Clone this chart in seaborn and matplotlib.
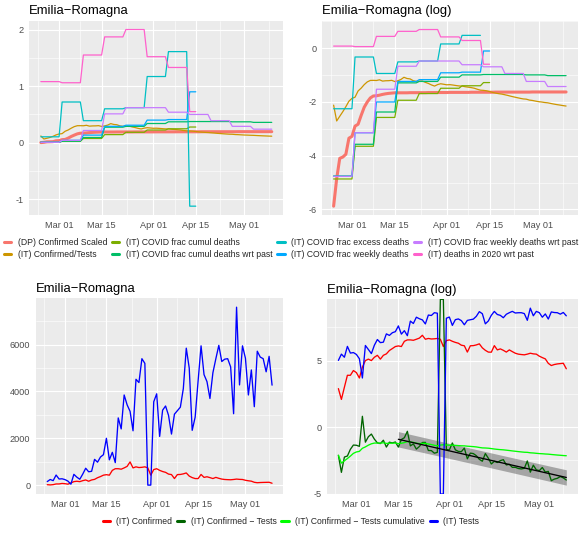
import numpy as np
import pandas as pd
import matplotlib
matplotlib.use('Agg')
import matplotlib.pyplot as plt
import matplotlib.dates as mdates
from matplotlib.ticker import MultipleLocator, FixedLocator
from matplotlib.lines import Line2D
import seaborn as sns

nan = np.nan

# ---- data (Emilia-Romagna, 2020-02-24 .. 2020-05-10) ----
dates = pd.date_range('2020-02-24', '2020-05-10', freq='D')
week_start = pd.date_range('2020-02-24', periods=11, freq='7D')
istat_end = pd.Timestamp('2020-04-15')

confirmed = [18, 8, 20, 49, 49, 70, 60, 40, 90, 148,
             165, 148, 190, 220, 165, 220, 245, 315, 365, 425,
             445, 425, 630, 700, 700, 680, 735, 800, 990, 735,
             780, 750, 760, 780, 735, 425, 665, 700, 630, 580,
             545, 470, 450, 280, 450, 455, 480, 520, 385, 320,
             280, 278, 455, 330, 356, 320, 280, 330, 290, 257,
             240, 233, 228, 240, 257, 245, 240, 206, 185, 168,
             120, 102, 110, 115, 118, 121, 80]

tests = [150, 240, 190, 430, 260, 270, 235, 170, 40, 460,
         340, 250, 470, 720, 570, 590, 1100, 980, 1200, 1300,
         2000, 1080, 1400, 960, 2870, 2400, 3850, 3430, 3150, 2320,
         4520, 4380, 5400, 5200, 0, 0, 3560, 3900, 2080, 3200,
         3380, 2980, 2180, 3030, 3180, 3330, 4120, 5850, 5000, 2340,
         2900, 4450, 5950, 4720, 4420, 3700, 4800, 5400, 5970, 5280,
         5380, 5400, 5050, 3050, 7600, 4280, 5950, 5420, 3850, 4920,
         3350, 5720, 5470, 5400, 4840, 5500, 4270]

dp_confirmed_scaled = [0.0028, 0.0078, 0.0166, 0.0174, 0.0193, 0.0351, 0.0376, 0.055, 0.059, 0.082,
                       0.111, 0.135, 0.157, 0.169, 0.170, 0.174, 0.179, 0.183, 0.186, 0.188,
                       0.190, 0.190, 0.190, 0.190, 0.190, 0.191, 0.191, 0.191, 0.191, 0.191,
                       0.191, 0.192, 0.192, 0.192, 0.192, 0.192, 0.192, 0.192, 0.193, 0.193,
                       0.193, 0.193, 0.193, 0.193, 0.193, 0.194, 0.194, 0.194, 0.194, 0.194,
                       0.194, 0.194, 0.194, 0.195, 0.195, 0.195, 0.195, 0.195, 0.195, 0.195,
                       0.195, 0.195, 0.195, 0.195, 0.195, 0.196, 0.196, 0.196, 0.196, 0.196,
                       0.196, 0.196, 0.196, 0.196, 0.196, 0.196, 0.196]

# weekly ISTAT values (one per week, Mon-Sun)
frac_cumul_deaths = [0.0077, 0.026, 0.076, 0.144, 0.185, 0.225, 0.247, 0.278, nan, nan, nan]
frac_cumul_deaths_past = [0.0086, 0.028, 0.093, 0.275, 0.29, 0.34, 0.37, 0.375, 0.375, 0.37, 0.36]
frac_excess_deaths = [0.105, 0.72, 0.39, 0.60, 0.62, 1.17, 1.61, -1.12, nan, nan, nan]
frac_weekly_deaths = [0.0085, 0.043, 0.135, 0.29, 0.31, 0.40, 0.41, 0.90, nan, nan, nan]
frac_weekly_deaths_past = [0.0085, 0.043, 0.217, 0.51, 0.62, 0.62, 0.54, 0.50, 0.39, 0.29, 0.24]
deaths_2020_past = [1.08, 1.06, 1.55, 1.87, 2.00, 1.52, 1.33, 0.55, nan, nan, nan]

top_labels = ['(DP) Confirmed Scaled', '(IT) Confirmed/Tests',
              '(IT) COVID frac cumul deaths', '(IT) COVID frac cumul deaths wrt past',
              '(IT) COVID frac excess deaths', '(IT) COVID frac weekly deaths',
              '(IT) COVID frac weekly deaths wrt past', '(IT) deaths in 2020 wrt past']
top_colors = ['#F8766D', '#CD9600', '#7CAE00', '#00BE67',
              '#00BFC4', '#00A9FF', '#C77CFF', '#FF61CC']

bottom_labels = ['(IT) Confirmed', '(IT) Confirmed \u2212 Tests',
                 '(IT) Confirmed \u2212 Tests cumulative', '(IT) Tests']
bottom_colors = ['#FF0000', '#006400', '#00FF00', '#0000FF']

title = 'Emilia\u2212Romagna'


def weekly_to_daily(vals, end=None):
    s = pd.Series(vals, index=week_start).reindex(dates, method='ffill')
    if end is not None:
        s[s.index > end] = nan
    return s.values


# ---- build series ----
conf = np.array(confirmed, dtype=float)
tst = np.array(tests, dtype=float)
cum_ratio = np.cumsum(conf) / np.cumsum(tst)

top_series = [
    np.array(dp_confirmed_scaled),
    cum_ratio,
    weekly_to_daily(frac_cumul_deaths, istat_end),
    weekly_to_daily(frac_cumul_deaths_past),
    weekly_to_daily(frac_excess_deaths, istat_end),
    weekly_to_daily(frac_weekly_deaths, istat_end),
    weekly_to_daily(frac_weekly_deaths_past),
    weekly_to_daily(deaths_2020_past, istat_end),
]
top_widths = [2.2] + [0.9] * 7

with np.errstate(divide='ignore', invalid='ignore'):
    log_conf = np.log(conf)
    log_tests = np.log(tst)
    log_ratio = np.log(conf / tst)
    log_cum = np.log(cum_ratio)

# ---- style ----
sns.set_theme(style='darkgrid', rc={
    'axes.facecolor': '#EBEBEB',
    'grid.color': 'white',
    'axes.unicode_minus': False,
})
plt.rcParams['font.family'] = ['Liberation Sans', 'DejaVu Sans']

W, H = 582, 533
fig = plt.figure(figsize=(W / 100, H / 100), dpi=100)


def rect(x0, y0, x1, y1):
    return [x0 / W, 1 - y1 / H, (x1 - x0) / W, (y1 - y0) / H]


ax_tl = fig.add_axes(rect(29.3, 20.7, 283.3, 215))
ax_tr = fig.add_axes(rect(322, 20.7, 577.7, 215))
ax_bl = fig.add_axes(rect(36, 298.3, 283.3, 494))
ax_br = fig.add_axes(rect(327, 299.3, 577.7, 494))

major_dates = pd.to_datetime(['2020-03-01', '2020-03-15', '2020-04-01', '2020-04-15', '2020-05-01'])
mnum = mdates.date2num(major_dates)
minor_num = list((mnum[:-1] + mnum[1:]) / 2)
minor_num = [mnum[0] - (mnum[1] - mnum[0]) / 2] + minor_num + [mnum[-1] + (mnum[-1] - mnum[-2]) / 2]


def style_axis(ax, ystep, name):
    ax.xaxis.set_major_locator(FixedLocator(mnum))
    ax.xaxis.set_minor_locator(FixedLocator(minor_num))
    ax.xaxis.set_major_formatter(mdates.DateFormatter('%b %d'))
    ax.yaxis.set_major_locator(MultipleLocator(ystep))
    ax.yaxis.set_minor_locator(MultipleLocator(ystep / 2))
    ax.grid(which='major', color='white', linewidth=0.85)
    ax.grid(which='minor', color='white', linewidth=0.4)
    ax.tick_params(which='major', length=2.5, width=0.6, color='#333333',
                   labelcolor='#4D4D4D', labelsize=6.6, pad=1.5)
    ax.tick_params(which='minor', length=0)
    for s in ax.spines.values():
        s.set_visible(False)
    ax.set_xlabel('')
    ax.set_ylabel('')
    ax.set_title(name, loc='left', fontsize=9.4, pad=4.5, color='black')


# top-left: linear
for vals, c, lw in zip(top_series, top_colors, top_widths):
    sns.lineplot(x=dates, y=vals, ax=ax_tl, color=c, linewidth=lw, estimator=None)
style_axis(ax_tl, 1, title)

# top-right: log
for vals, c, lw in zip(top_series, top_colors, top_widths):
    with np.errstate(invalid='ignore', divide='ignore'):
        lv = np.log(vals)
    sns.lineplot(x=dates, y=lv, ax=ax_tr, color=c, linewidth=lw, estimator=None)
style_axis(ax_tr, 2, title + ' (log)')

# bottom-left: daily counts
sns.lineplot(x=dates, y=conf, ax=ax_bl, color=bottom_colors[0], linewidth=0.95)
sns.lineplot(x=dates, y=tst, ax=ax_bl, color=bottom_colors[3], linewidth=0.95)
style_axis(ax_bl, 2000, title)

# bottom-right: logs + linear fit from Mar 15
day = np.arange(len(dates), dtype=float)
fit_mask = (dates >= '2020-03-15') & np.isfinite(log_ratio)
xf, yf = day[fit_mask], log_ratio[fit_mask]
slope, icpt = np.polyfit(xf, yf, 1)
n = len(xf)
resid = yf - (slope * xf + icpt)
s = np.sqrt(np.sum(resid ** 2) / (n - 2))
xs = day[dates >= '2020-03-15']
ds = dates[dates >= '2020-03-15']
fit = slope * xs + icpt
half = 1.96 * s * np.sqrt(1 + 1 / n + (xs - xf.mean()) ** 2 / np.sum((xf - xf.mean()) ** 2))

finite = np.concatenate([v[np.isfinite(v)] for v in (log_conf, log_tests, log_ratio, log_cum)]
                        + [fit - half, fit + half])
lo, hi = finite.min(), finite.max()
pad = 0.05 * (hi - lo)
ylo, yhi = lo - pad, hi + pad


def clip_inf(v):
    v = v.copy()
    v[v == np.inf] = yhi
    v[v == -np.inf] = ylo
    return v


sns.lineplot(x=dates, y=clip_inf(log_conf), ax=ax_br, color=bottom_colors[0], linewidth=0.95)
sns.lineplot(x=dates, y=clip_inf(log_ratio), ax=ax_br, color=bottom_colors[1], linewidth=0.95)
sns.lineplot(x=dates, y=clip_inf(log_cum), ax=ax_br, color=bottom_colors[2], linewidth=0.95)
sns.lineplot(x=dates, y=clip_inf(log_tests), ax=ax_br, color=bottom_colors[3], linewidth=0.95)
ax_br.fill_between(ds, fit - half, fit + half, color='#505050', alpha=0.45, linewidth=0)
ax_br.plot(ds, fit, color='black', linewidth=0.95)
ax_br.set_ylim(ylo, yhi)
style_axis(ax_br, 5, title + ' (log)')

for ax in (ax_tl, ax_tr, ax_bl, ax_br):
    ax.set_xlim(mdates.date2num(dates[0]) - 0.05 * (len(dates) - 1),
                mdates.date2num(dates[-1]) + 0.05 * (len(dates) - 1))

# ---- legends ----
leg_kw = dict(ncol=4, loc='center', frameon=False, fontsize=6.2,
              handlelength=0.85, handletextpad=0.75, columnspacing=0.55)

top_handles = [Line2D([], [], color=c, linewidth=2.2) for c in top_colors]
fig.legend(top_handles, top_labels, bbox_to_anchor=(291 / W, 1 - 248.5 / H),
           labelspacing=0.3, **leg_kw)

bottom_handles = [Line2D([], [], color=c, linewidth=2.2) for c in bottom_colors]
fig.legend(bottom_handles, bottom_labels, bbox_to_anchor=(291 / W, 1 - 522 / H), **leg_kw)

fig.savefig('out.png', dpi=100, facecolor='white')
